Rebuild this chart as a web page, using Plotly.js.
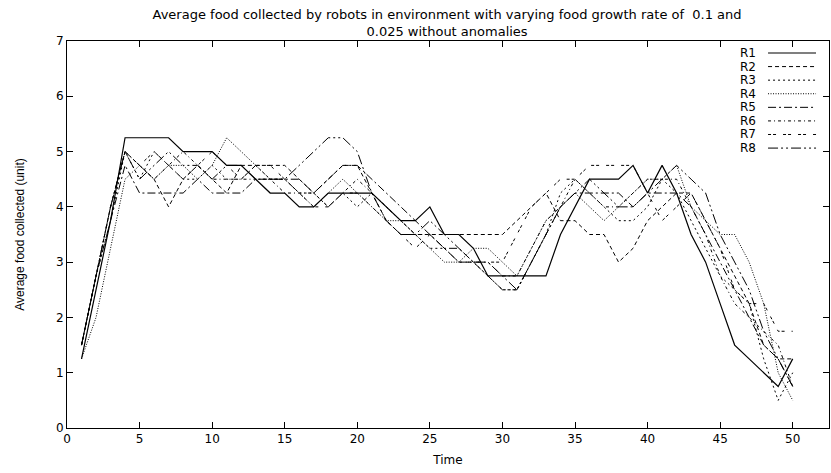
<!DOCTYPE html>
<html>
<head>
<meta charset="utf-8">
<script src="https://cdn.plot.ly/plotly-3.0.1.min.js"></script>
<style>html,body{margin:0;padding:0;background:#fff;}#chart{width:831px;height:473px;}</style>
</head>
<body>
<div id="chart"></div>
<script>
// Time steps
const time = [];
for (let t = 1; t <= 50; t++) time.push(t);

const seriesNames = ["R1", "R2", "R3", "R4", "R5", "R6", "R7", "R8"];

const r1 = [1.25,2.5,3.75,5.25,5.25,5.25,5.25,5.0,5.0,5.0,4.75,4.75,4.5,4.25,4.25,4.0,4.0,4.25,4.25,4.25,4.25,4.0,3.75,3.75,4.0,3.5,3.5,3.25,2.75,2.75,2.75,2.75,2.75,3.5,4.0,4.5,4.5,4.5,4.75,4.25,4.75,4.25,3.5,3.0,2.25,1.5,1.25,1.0,0.75,1.25];
const r2 = [1.5,2.75,4.0,5.0,4.75,4.5,4.0,4.5,4.75,4.5,4.25,4.75,4.75,4.75,4.75,4.5,4.25,4.5,4.75,4.75,4.25,3.75,3.5,3.5,3.5,3.5,3.5,3.5,3.5,3.5,3.75,4.0,4.25,3.75,3.75,3.5,3.5,3.0,3.25,3.75,4.0,4.25,4.25,3.75,3.25,2.75,2.25,1.5,1.25,1.25];
const r3 = [1.5,2.75,3.75,5.0,4.5,5.0,4.75,4.5,4.5,4.75,4.5,4.5,4.75,4.5,4.5,4.25,4.25,4.0,4.25,4.0,4.25,4.0,3.75,3.5,3.25,3.25,3.0,3.0,2.75,2.5,2.5,3.0,3.5,4.25,4.5,4.25,4.0,3.75,3.75,4.0,4.5,4.25,3.75,3.25,2.75,2.5,2.25,1.25,0.5,1.0];
const r4 = [1.25,2.0,3.25,4.5,4.75,4.5,4.75,4.75,4.5,4.75,5.25,5.0,4.75,4.5,4.5,4.25,4.0,4.25,4.5,4.25,4.0,3.75,3.75,3.5,3.25,3.0,3.0,3.25,3.25,3.0,2.75,3.25,3.75,4.0,4.25,4.0,3.75,4.0,4.25,4.5,4.5,4.75,4.0,3.75,3.5,3.5,3.0,2.25,1.0,0.5];
const r5 = [1.5,2.75,3.75,4.75,4.25,4.25,4.25,4.25,4.5,4.25,4.25,4.25,4.5,4.5,4.5,4.5,4.25,4.5,4.75,4.75,4.5,4.25,4.0,3.75,3.5,3.25,3.25,3.0,2.75,2.5,2.5,3.0,3.5,4.0,4.25,4.25,4.25,4.25,4.0,4.25,4.25,4.25,4.0,3.5,3.0,2.5,2.0,1.5,1.25,0.75];
const r6 = [1.5,2.75,4.0,5.0,4.75,4.5,4.75,5.0,4.75,4.5,4.5,4.5,4.5,4.5,4.25,4.25,4.25,4.0,4.25,4.5,4.25,4.0,3.75,3.5,3.5,3.25,3.0,3.0,3.0,2.75,2.75,3.25,3.75,4.0,4.5,4.25,4.0,4.0,4.25,4.5,4.5,4.5,4.0,3.5,2.75,2.25,2.0,1.75,1.5,0.75];
const r7 = [1.5,2.75,4.0,5.0,4.75,5.0,4.75,4.5,4.75,5.0,4.75,4.5,4.75,4.75,4.5,4.25,4.0,4.0,4.25,4.25,4.0,3.75,3.5,3.25,3.5,3.25,3.0,3.0,3.0,3.0,3.5,4.0,4.25,4.5,4.5,4.75,4.75,4.75,4.75,4.25,3.75,4.0,4.25,3.75,3.25,2.5,2.25,2.25,1.75,1.75];
const r8 = [1.5,2.75,4.0,5.0,4.5,4.75,5.0,4.75,4.75,4.5,4.75,4.75,4.5,4.5,4.5,4.75,5.0,5.25,5.25,5.0,4.25,3.75,3.5,3.5,3.75,3.5,3.25,3.0,3.0,2.75,2.5,3.0,3.5,4.0,4.25,4.5,4.25,4.0,4.0,4.25,4.5,4.75,4.5,4.25,3.5,3.0,2.5,1.75,1.25,0.75];

const seriesValues = [r1, r2, r3, r4, r5, r6, r7, r8];
const dashes = ["solid", "4px,3px", "2px,3px", "1px,1.5px", "8px,3px,2px,3px", "3px,3px,1px,3px", "3px,2px,3px,7px", "10px,3px,2px,3px,2px,3px"];
const widths = [1.2, 1, 1, 1, 1, 1, 1, 1];

const xTicks = [0,5,10,15,20,25,30,35,40,45,50];
const yTicks = [0,1,2,3,4,5,6,7];

const traces = seriesValues.map((v, i) => ({
  x: time, y: v, type: "scatter", mode: "lines", name: seriesNames[i],
  line: {color: "#000", width: widths[i], dash: dashes[i]},
  showlegend: false, hoverinfo: "skip"
}));

// custom legend: label on the left, line sample on the right (as in reference)
const shapes = [], annotations = [];
const y0 = 0.969, dy = 0.0351;
seriesNames.forEach((n, i) => {
  const yy = y0 - i * dy;
  annotations.push({xref: "paper", yref: "paper", x: 0.9068, y: yy, text: n, showarrow: false,
    xanchor: "right", yanchor: "middle", font: {family: "DejaVu Sans, sans-serif", size: 12, color: "#000"}});
  shapes.push({type: "line", xref: "paper", yref: "paper", x0: 0.92, x1: 0.983, y0: yy, y1: yy,
    line: {color: "#000", width: widths[i], dash: dashes[i]}});
});

const layout = {
  width: 831, height: 473,
  margin: {l: 67, r: 2, t: 41, b: 45},
  paper_bgcolor: "#fff", plot_bgcolor: "#fff",
  font: {family: "DejaVu Sans, sans-serif", size: 12, color: "#000"},
  title: {text: "Average food collected by robots in environment with varying food growth rate of  0.1 and<br>0.025 without anomalies",
    xref: "container", yref: "container", x: 0.538, xanchor: "center", y: 0.96, yanchor: "middle",
    font: {family: "DejaVu Sans, sans-serif", size: 13, color: "#000"}},
  xaxis: {range: [0, 52.5], tickvals: xTicks, ticktext: xTicks.map(String), ticks: "inside", ticklen: 6, tickcolor: "#000",
    showline: true, linecolor: "#000", linewidth: 1, mirror: "ticks", showgrid: false, zeroline: false,
    title: {text: "Time", standoff: 10, font: {family: "DejaVu Sans, sans-serif", size: 12}}},
  yaxis: {range: [0, 7], tickvals: yTicks, ticktext: yTicks.map(String), ticks: "inside", ticklen: 6, tickcolor: "#000",
    showline: true, linecolor: "#000", linewidth: 1, mirror: "ticks", showgrid: false, zeroline: false,
    title: {text: "Average food collected (unit)", standoff: 28, font: {family: "Liberation Sans, Arial, sans-serif", size: 12}}},
  shapes: shapes, annotations: annotations
};

Plotly.newPlot("chart", traces, layout, {displayModeBar: false, staticPlot: true});
</script>
</body>
</html>
